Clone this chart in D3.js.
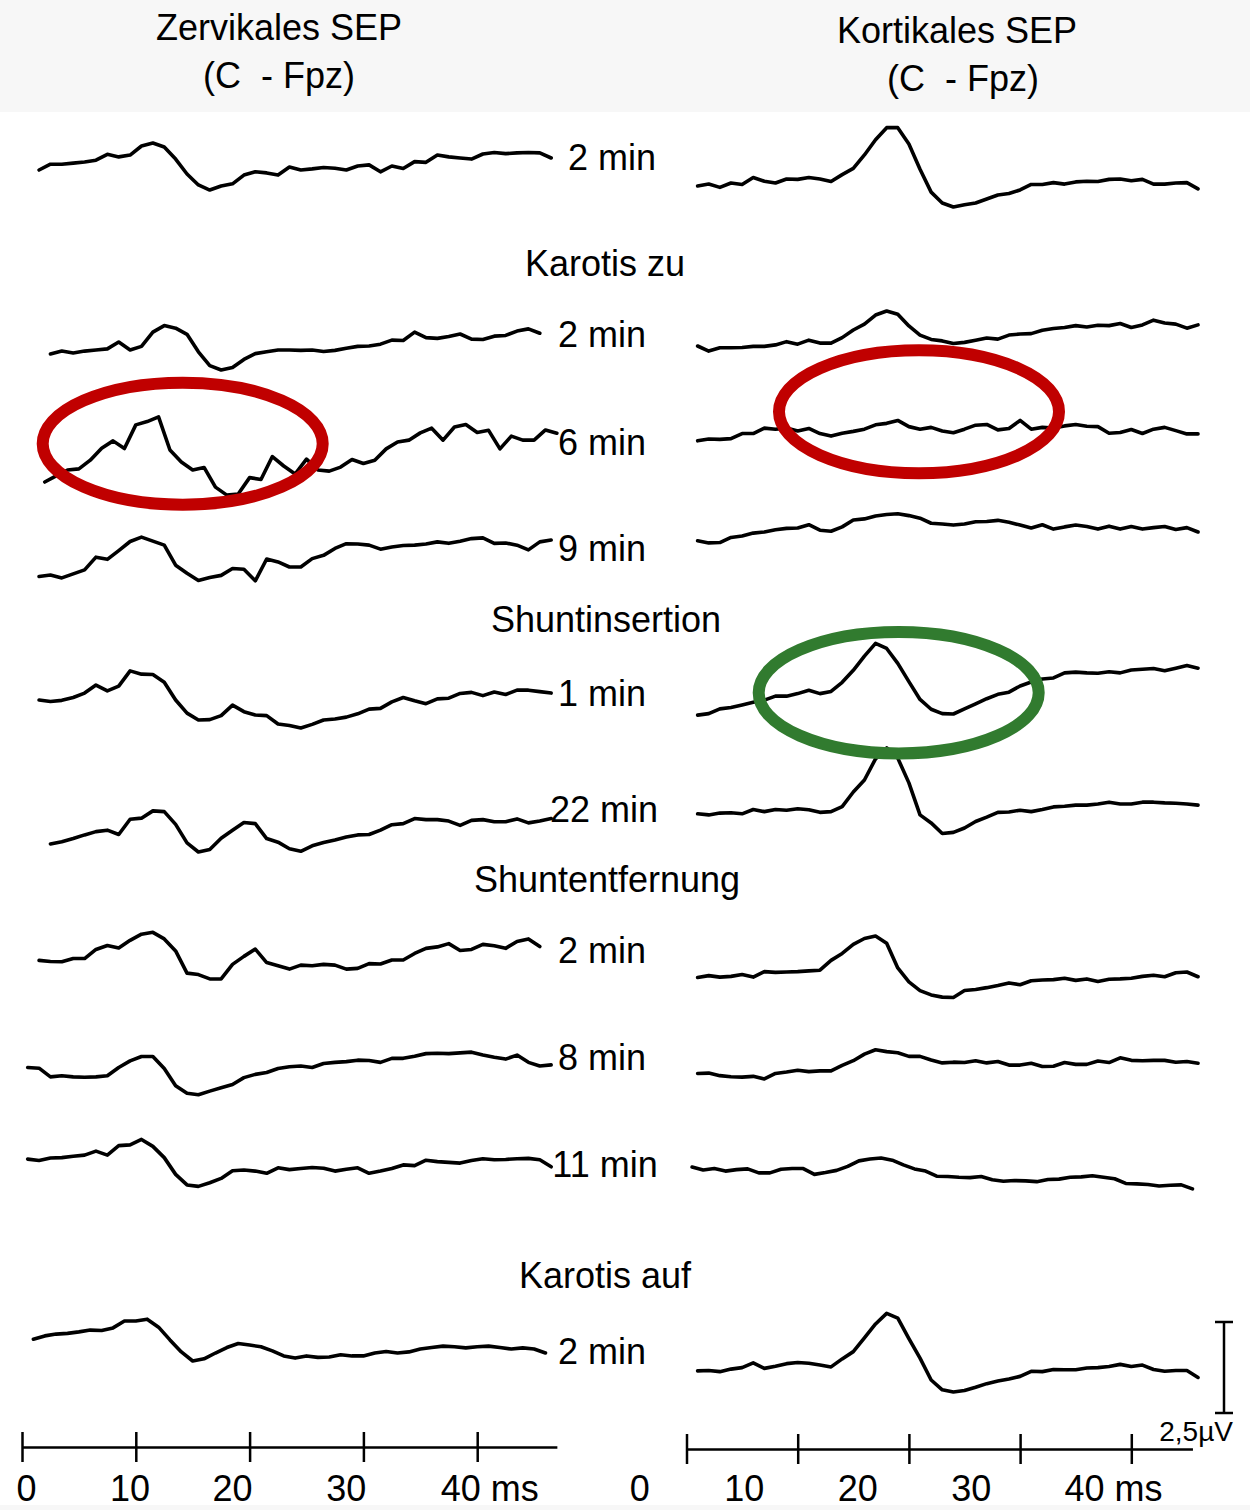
<!DOCTYPE html>
<html>
<head>
<meta charset="utf-8">
<script src="https://cdn.jsdelivr.net/npm/d3@7"></script>
<style>
  body { margin: 0; background: #fff; }
  svg { display: block; font-family: Arial, "Liberation Sans", sans-serif; }
</style>
</head>
<body>
<div id="chart"></div>
<script>
// Amplitudes in µV, one sample per ms, starting at the given time (ms)
// Zervikales SEP (left column)
var zervPre2 = [0, .16, .16, .19, .22, .27, .43, .36, .41, .66, .74, .63, .30, -.11, -.41, -.55, -.44, -.38, -.14, -.05, -.08, -.14, .08, 0, .03, .07, .05, 0, .11, .14, -.05, .11, .04, .23, .21, .41, .36, .33, .30, .44, .48, .45, .47, .48, .47, .33];
var zervZu2 = [-.11, -.03, -.08, -.03, 0, .03, .22, 0, .10, .49, .67, .60, .43, -.05, -.43, -.55, -.48, -.26, -.10, -.05, 0, 0, -.01, 0, -.04, -.01, .05, .10, .11, .16, .27, .26, .49, .34, .32, .37, .44, .30, .29, .38, .40, .52, .58, .46];
var zervZu6 = [-.33, -.16, 0, .03, .27, .60, .80, .59, 1.24, 1.33, 1.46, .55, .22, 0, .07, -.47, -.69, -.66, -.21, -.26, .37, .11, -.11, .30, 0, -.03, .08, .29, .18, .27, .58, .77, .82, 1.02, 1.15, .82, 1.18, 1.25, 1.03, 1.09, .58, .93, .82, .82, 1.10, 1.01];
var zervZu9 = [-.04, 0, -.08, .03, .14, .49, .43, .67, .92, 1.04, .93, .82, .27, .05, -.15, -.07, -.01, .18, .16, -.16, .44, .36, .22, .22, .45, .54, .73, .86, .85, .82, .71, .77, .81, .82, .85, .91, .87, .93, 1.00, 1.02, .87, .88, .82, .69, .91, .96];
var zervShunt1 = [0, -.04, -.01, .07, .19, .41, .25, .38, .80, .71, .70, .49, 0, -.36, -.55, -.54, -.43, -.14, -.32, -.41, -.43, -.66, -.70, -.77, -.67, -.55, -.52, -.47, -.38, -.25, -.23, -.05, .07, -.02, -.10, .03, .05, .18, .21, .12, .22, .15, .27, .27, .23, .19];
var zervShunt22 = [-.11, -.05, .04, .14, .23, .27, .15, .57, .60, .80, .78, .43, -.08, -.33, -.26, .05, .27, .48, .45, .04, -.06, -.24, -.31, -.16, -.07, 0, .08, .14, .15, .27, .42, .45, .59, .56, .56, .52, .40, .54, .56, .50, .50, .58, .47, .52, .59];
var zervEnt2 = [-.01, -.04, -.05, .04, .04, .29, .40, .33, .54, .71, .76, .58, .25, -.36, -.40, -.52, -.52, -.12, .10, .30, -.07, -.16, -.25, -.14, -.16, -.12, -.14, -.25, -.23, -.10, -.11, 0, 0, .18, .32, .36, .45, .26, .29, .43, .39, .32, .51, .58, .37];
var zervEnt8 = [.07, .05, -.19, -.16, -.19, -.20, -.19, -.16, .07, .25, .37, .37, .04, -.43, -.64, -.68, -.58, -.49, -.40, -.21, -.12, -.07, .04, .09, .11, .07, .18, .21, .23, .27, .26, .21, .32, .32, .38, .45, .46, .45, .47, .49, .41, .35, .30, .41, .21, .11, .14];
var zervEnt11 = [-.03, -.07, 0, .01, .05, .08, .19, .08, .34, .36, .51, .32, .01, -.45, -.74, -.78, -.68, -.56, -.35, -.33, -.36, -.42, -.27, -.32, -.29, -.26, -.28, -.36, -.31, -.27, -.42, -.36, -.29, -.19, -.21, -.06, -.10, -.12, -.14, -.07, -.02, -.05, -.04, -.02, -.01, -.05, -.24];
var zervAuf2 = [.16, .25, .30, .32, .36, .41, .40, .47, .66, .66, .71, .49, .14, -.19, -.44, -.38, -.22, -.07, .04, 0, -.05, -.16, -.30, -.36, -.30, -.34, -.33, -.27, -.30, -.30, -.22, -.18, -.22, -.19, -.11, -.07, -.03, -.05, -.08, -.05, -.03, -.07, -.11, -.08, -.11, -.22];
var zervStart = [1.5, 2.5, 2, 1.5, 1.5, 2.5, 1.5, 0.5, 0.5, 1];

// Kortikales SEP (right column)
var kortPre2 = [-.08, -.03, -.12, 0, -.04, .15, .05, 0, .11, .10, .15, .11, .04, .23, .40, .77, 1.19, 1.52, 1.52, 1.07, .38, -.25, -.55, -.66, -.60, -.55, -.44, -.33, -.29, -.19, -.04, -.04, .01, -.03, .03, .05, .04, .10, .11, .06, .10, -.03, -.03, 0, .01, -.16];
var kortZu2 = [0, -.14, -.05, -.05, -.04, -.01, -.01, .03, .12, .05, .16, .08, .08, .23, .44, .60, .85, .96, .87, .55, .30, .18, .14, .07, .10, .16, .22, .19, .30, .33, .34, .43, .48, .51, .56, .52, .57, .56, .62, .51, .58, .71, .63, .60, .49, .58];
var kortZu6 = [-.16, -.11, -.12, -.10, .04, .04, .19, .16, .19, .11, .18, .04, -.03, .05, .10, .16, .28, .32, .40, .23, .16, .21, .11, .06, .16, .27, .29, .14, .18, .40, .16, .21, .19, .25, .29, .24, .23, .05, .07, .15, .04, .16, .21, .12, .03, .03];
var kortZu9 = [-.02, -.08, -.07, .07, .11, .19, .22, .28, .32, .33, .42, .27, .24, .36, .55, .58, .66, .70, .72, .67, .60, .46, .44, .41, .44, .50, .51, .54, .49, .41, .33, .42, .30, .36, .41, .37, .30, .38, .30, .37, .30, .34, .37, .29, .34, .22];
var kortShunt1 = [-.14, -.10, .03, .07, .14, .21, .27, .38, .38, .45, .54, .45, .51, .76, 1.09, 1.48, 1.83, 1.69, 1.28, .78, .29, .02, -.10, -.11, .03, .17, .31, .43, .49, .66, .77, .85, .88, 1.02, 1.04, 1.02, 1.01, 1.05, 1.02, 1.10, 1.12, 1.14, 1.08, 1.15, 1.22, 1.15];
var kortShunt22 = [-.05, -.08, -.03, -.02, -.05, .07, .01, .07, .05, .09, .06, -.01, .01, .15, .55, .88, 1.46, 1.76, 1.48, .80, -.08, -.30, -.59, -.56, -.44, -.26, -.14, -.01, 0, .05, .01, .07, .14, .16, .19, .19, .22, .27, .22, .22, .27, .27, .25, .24, .22, .19];
var kortEnt2 = [-.04, .01, -.03, -.01, .04, -.03, .12, .10, .11, .12, .14, .16, .43, .62, .87, 1.03, 1.10, .90, .22, -.16, -.40, -.52, -.58, -.59, -.40, -.37, -.32, -.26, -.19, -.24, -.13, -.11, -.10, -.06, -.12, -.08, -.15, -.09, -.08, -.06, -.01, .02, -.02, .09, .11, -.02];
var kortEnt8 = [-.04, -.03, -.10, -.13, -.14, -.12, -.19, -.04, 0, .05, .01, .03, .03, .18, .31, .49, .61, .56, .53, .43, .43, .33, .25, .27, .26, .31, .25, .29, .19, .19, .24, .15, .16, .26, .21, .21, .30, .26, .39, .32, .31, .32, .32, .27, .29, .24];
var kortEnt11 = [.08, 0, .04, -.03, .01, .03, -.08, -.08, .02, .04, .04, -.12, -.07, -.01, .10, .25, .30, .33, .27, .14, .03, -.03, -.17, -.18, -.20, -.21, -.18, -.27, -.31, -.29, -.30, -.32, -.26, -.25, -.20, -.19, -.16, -.20, -.24, -.37, -.38, -.40, -.44, -.42, -.41, -.52];
var kortAuf2 = [-.08, -.07, -.10, -.03, .01, .14, -.01, .05, .12, .15, .13, .08, .03, .25, .45, .83, 1.21, 1.50, 1.37, .81, .27, -.33, -.60, -.66, -.62, -.53, -.43, -.36, -.30, -.23, -.09, -.10, -.04, -.05, -.05, 0, .01, .04, .10, .04, .08, -.04, -.09, -.07, -.07, -.26];
var kortStart = [1, 1, 1, 1, 1, 1, 1, 1, 0.5, 1];

var rowLabels = ["2 min", "2 min", "6 min", "9 min", "1 min", "22 min", "2 min", "8 min", "11 min", "2 min"];
var sectionLabels = ["Karotis zu", "Shuntinsertion", "Shuntentfernung", "Karotis auf"];
var timeTicks = [0, 10, 20, 30, 40];
var tickLabels = ["0", "10", "20", "30", "40 ms"];
// where the printed tick labels sit (ms), they are offset from the ticks in the original
var leftLabelAt = [0.4, 9.5, 18.5, 28.5, 41.1];
var rightLabelAt = [-4.2, 5.2, 15.4, 25.6, 38.4];
var scaleBarUv = 2.5;

// layout
var svgWidth = 1250;
var svgHeight = 1510;
var leftBase = [170, 350, 470, 575, 700, 840, 960, 1070, 1158, 1345];
var rightBase = [183, 346, 435, 540, 710, 812, 976, 1072, 1170, 1368];
var labelX = [612, 602, 602, 602, 602, 604, 602, 602, 605, 602];
var labelY = [170, 347, 455, 561, 706, 822, 963, 1070, 1177, 1364];
var sectionX = [605, 606, 607, 605];
var sectionY = [276, 632, 892, 1288];

var svg = d3.select("#chart")
  .append("svg")
    .attr("width", svgWidth)
    .attr("height", svgHeight);

// header band and bottom band
svg.append("rect").attr("x", 0).attr("y", 0).attr("width", svgWidth).attr("height", 112).attr("fill", "#f7f7f7");
svg.append("rect").attr("x", 0).attr("y", 1505).attr("width", svgWidth).attr("height", 5).attr("fill", "#f7f7f7");

var xLeft = d3.scaleLinear().domain([0, 47]).range([22, 22 + 47 * 11.38]);
var xRight = d3.scaleLinear().domain([0, 45.5]).range([686.5, 686.5 + 45.5 * 11.12]);
var yAmp = d3.scaleLinear().domain([0, scaleBarUv]).range([0, -91]);

var zervRows = [zervPre2, zervZu2, zervZu6, zervZu9, zervShunt1, zervShunt22, zervEnt2, zervEnt8, zervEnt11, zervAuf2];
var kortRows = [kortPre2, kortZu2, kortZu6, kortZu9, kortShunt1, kortShunt22, kortEnt2, kortEnt8, kortEnt11, kortAuf2];

function drawTrace(values, t0, base, xScale) {
  var line = d3.line()
    .x(function(d, i) { return xScale(t0 + i); })
    .y(function(d) { return yAmp(d); });
  svg.append("g")
    .attr("transform", "translate(0," + base + ")")
    .append("path")
      .datum(values)
      .attr("d", line)
      .attr("fill", "none")
      .attr("stroke", "#000")
      .attr("stroke-width", 3.6)
      .attr("stroke-linejoin", "round")
      .attr("stroke-linecap", "round");
}

zervRows.forEach(function(vals, i) { drawTrace(vals, zervStart[i], leftBase[i], xLeft); });
kortRows.forEach(function(vals, i) { drawTrace(vals, kortStart[i], rightBase[i], xRight); });

// headers (the gap after C is kept as in the original)
var head = svg.append("g").style("font-size", "36px").attr("text-anchor", "middle");
head.append("text").attr("x", 279).attr("y", 40).text("Zervikales SEP");
head.append("text").attr("x", 279).attr("y", 88).text("(C\u00a0\u00a0- Fpz)");
head.append("text").attr("x", 957).attr("y", 43).text("Kortikales SEP");
head.append("text").attr("x", 963).attr("y", 91).text("(C\u00a0\u00a0- Fpz)");

// row labels
svg.append("g").style("font-size", "36px").attr("text-anchor", "middle")
  .selectAll("text")
  .data(rowLabels)
  .enter()
  .append("text")
    .attr("x", function(d, i) { return labelX[i]; })
    .attr("y", function(d, i) { return labelY[i]; })
    .text(function(d) { return d; });

svg.append("g").style("font-size", "36px").attr("text-anchor", "middle")
  .selectAll("text")
  .data(sectionLabels)
  .enter()
  .append("text")
    .attr("x", function(d, i) { return sectionX[i]; })
    .attr("y", function(d, i) { return sectionY[i]; })
    .text(function(d) { return d; });

// marker ellipses
var marks = svg.append("g").attr("fill", "none").attr("stroke-width", 12);
marks.append("ellipse").attr("cx", 182.7).attr("cy", 443.7).attr("rx", 140).attr("ry", 61).attr("stroke", "#c00000");
marks.append("ellipse").attr("cx", 919).attr("cy", 411.7).attr("rx", 140).attr("ry", 61.5).attr("stroke", "#c00000");
marks.append("ellipse").attr("cx", 898.7).attr("cy", 692.7).attr("rx", 140).attr("ry", 60.7).attr("stroke", "#317b2f");

// time axes
function drawAxis(xScale, yPos, labelAt) {
  var g = svg.append("g")
    .attr("transform", "translate(0," + yPos + ")")
    .call(d3.axisBottom(xScale).tickValues(timeTicks).tickSizeInner(15).tickSizeOuter(0).tickFormat(""));
  g.select(".domain").attr("stroke", "#000").attr("stroke-width", 2.5);
  g.selectAll(".tick line").attr("y1", -15).attr("y2", 15).attr("stroke", "#000").attr("stroke-width", 2.5);
  svg.append("g").style("font-size", "36px").attr("text-anchor", "middle")
    .selectAll("text")
    .data(tickLabels)
    .enter()
    .append("text")
      .attr("x", function(d, i) { return xScale(labelAt[i]); })
      .attr("y", 1501)
      .text(function(d) { return d; });
}
drawAxis(xLeft, 1447, leftLabelAt);
drawAxis(xRight, 1449, rightLabelAt);

// amplitude scale bar
var bar = svg.append("g").attr("transform", "translate(1224,1413)").attr("stroke", "#000").attr("stroke-width", 2.5);
bar.append("line").attr("x1", 0).attr("x2", 0).attr("y1", yAmp(0)).attr("y2", yAmp(scaleBarUv));
bar.append("line").attr("x1", -9).attr("x2", 9).attr("y1", yAmp(0)).attr("y2", yAmp(0));
bar.append("line").attr("x1", -9).attr("x2", 9).attr("y1", yAmp(scaleBarUv)).attr("y2", yAmp(scaleBarUv));
svg.append("text")
  .attr("x", 1233)
  .attr("y", 1441)
  .attr("text-anchor", "end")
  .style("font-size", "28px")
  .text("2,5µV");
</script>
</body>
</html>
